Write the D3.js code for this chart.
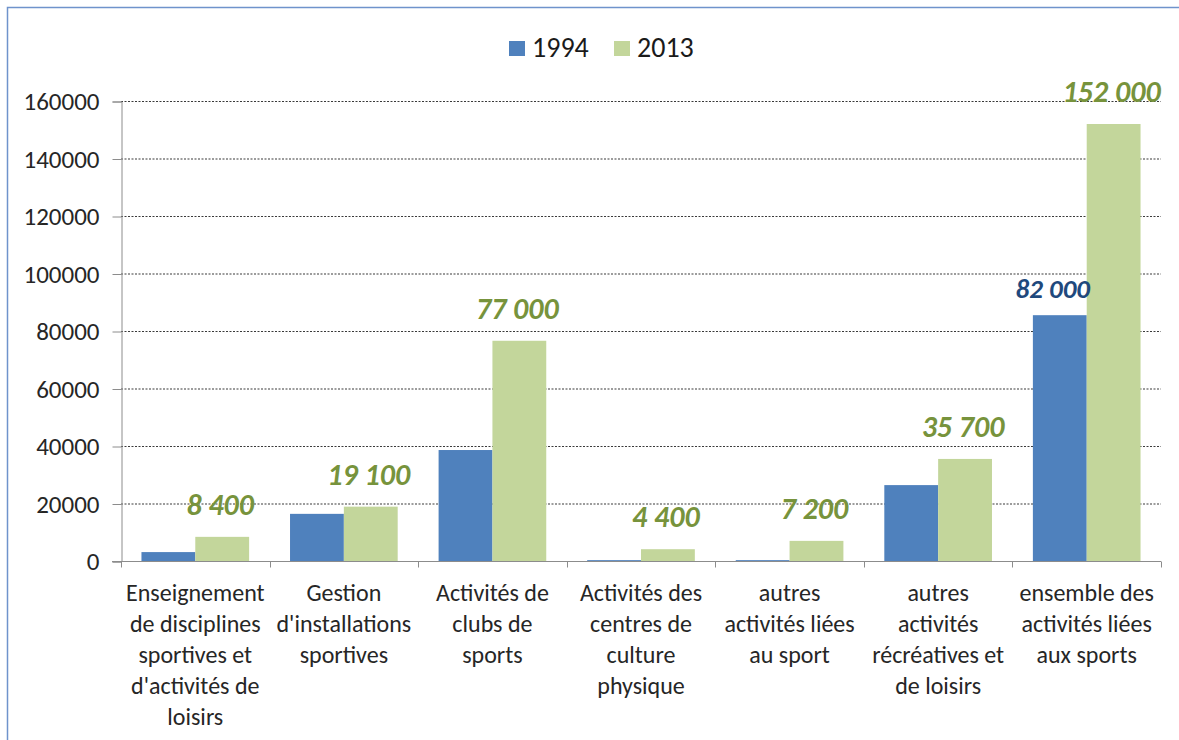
<!DOCTYPE html>
<head>
<meta charset="utf-8">
<title>Emplois liés au sport 1994 - 2013</title>
<style>
  body { margin: 0; background: #fff; overflow: hidden; }
  text { font-family: Calibri, Carlito, "Liberation Sans", Arial, sans-serif; }
</style>
</head>
<body>
<script src="https://d3js.org/d3.v7.min.js"></script>
<script>
// données
let categories = [
  "Enseignement\nde disciplines\nsportives et\nd'activités de\nloisirs",
  "Gestion\nd'installations\nsportives",
  "Activités de\nclubs de\nsports",
  "Activités des\ncentres de\nculture\nphysique",
  "autres\nactivités liées\nau sport",
  "autres\nactivités\nrécréatives et\nde loisirs",
  "ensemble des\nactivités liées\naux sports"
];
let series = ["1994", "2013"];
let values1994 = [3100, 16400, 38600, 300, 300, 26400, 85500];
let values2013 = [8400, 18900, 76600, 4100, 7000, 35500, 152000];
let labels1994 = ["", "", "", "", "", "", "82 000"];
let labels2013 = ["8 400", "19 100", "77 000", "4 400", "7 200", "35 700", "152 000"];
let yTicks = [0, 20000, 40000, 60000, 80000, 100000, 120000, 140000, 160000];

let colors = ["#4F81BD", "#C3D69B"];
let labelColors = ["#1F497D", "#77933C"];

let width = 1179;
let height = 740;
let svg = d3.select("body").append("svg")
  .attr("width", width)
  .attr("height", height);

// cadre du graphique (bords haut et gauche visibles)
svg.append("path")
  .attr("d", "M7.5,740V7.5H1179")
  .attr("fill", "none")
  .attr("stroke", "#6F93CC")
  .attr("stroke-width", 1.5);

let x0 = d3.scaleBand()
  .domain(categories)
  .range([121, 1161]);

let x1 = d3.scaleBand()
  .domain(series)
  .range([0, x0.bandwidth()])
  .paddingOuter(0.38);

let y = d3.scaleLinear()
  .domain([0, 160000])
  .range([561, 101]);

// grille
svg.selectAll(".grid")
  .data(yTicks.filter(d => d > 0))
  .join("line")
  .attr("class", "grid")
  .attr("x1", 121)
  .attr("x2", 1161)
  .attr("y1", d => y(d) + 0.5)
  .attr("y2", d => y(d) + 0.5)
  .attr("stroke", "#3a3a3a")
  .attr("stroke-width", 1.2)
  .attr("stroke-dasharray", "2,1.5");

// axe y
let yAxis = svg.append("g")
  .attr("transform", "translate(121.5,0.5)")
  .call(d3.axisLeft(y).tickValues(yTicks).tickFormat(d3.format("d")).tickSize(9).tickPadding(13));
yAxis.select(".domain").attr("stroke", "#8c8c8c");
yAxis.selectAll(".tick line").attr("stroke", "#8c8c8c");
yAxis.selectAll(".tick text")
  .attr("fill", "#262626")
  .style("font-size", "25px");

// barres
let rows = categories.map((c, i) => ({ cat: c, vals: [values1994[i], values2013[i]], labs: [labels1994[i], labels2013[i]] }));

let groups = svg.selectAll(".group")
  .data(rows)
  .join("g")
  .attr("class", "group")
  .attr("transform", d => `translate(${x0(d.cat)},0)`);

groups.selectAll("rect")
  .data(d => d.vals.map((v, k) => ({ key: series[k], value: v, k: k })))
  .join("rect")
  .attr("x", d => x1(d.key))
  .attr("y", d => y(d.value))
  .attr("width", x1.bandwidth())
  .attr("height", d => y(0) - y(d.value))
  .attr("fill", d => colors[d.k]);

groups.selectAll(".lab")
  .data(d => d.labs.map((l, k) => ({ key: series[k], value: d.vals[k], label: l, k: k })))
  .join("text")
  .attr("class", "lab")
  .attr("x", d => x1(d.key) + x1.bandwidth() / 2 - (d.k === 0 ? 7 : 2))
  .attr("y", d => y(d.value) - (d.k === 0 ? 17 : 22))
  .attr("text-anchor", "middle")
  .style("font-size", d => d.k === 0 ? "27px" : "30px")
  .style("font-style", "italic")
  .style("font-weight", "bold")
  .attr("fill", d => labelColors[d.k])
  .text(d => d.label);

// axe x
let xAxis = svg.append("g")
  .attr("transform", "translate(0,561.5)");
xAxis.append("line")
  .attr("x1", 112)
  .attr("x2", 1161)
  .attr("stroke", "#8c8c8c");
xAxis.selectAll(".xt")
  .data(categories.map(c => x0(c)).concat([x0.range()[1]]))
  .join("line")
  .attr("class", "xt")
  .attr("x1", d => Math.round(d) + 0.5)
  .attr("x2", d => Math.round(d) + 0.5)
  .attr("y1", 0)
  .attr("y2", 6)
  .attr("stroke", "#8c8c8c");

let catLabels = xAxis.selectAll(".cat")
  .data(categories)
  .join("text")
  .attr("class", "cat")
  .attr("x", d => x0(d) + x0.bandwidth() / 2)
  .attr("y", 39)
  .attr("text-anchor", "middle")
  .attr("fill", "#262626")
  .style("font-size", "24px");
catLabels.selectAll("tspan")
  .data(d => d.split("\n"))
  .join("tspan")
  .attr("x", function () { return d3.select(this.parentNode).attr("x"); })
  .attr("dy", (d, i) => i === 0 ? 0 : 31)
  .text(d => d);

// légende
let legend = svg.append("g").attr("class", "legend");
let legendX = [509, 614];
series.forEach(function (s, i) {
  legend.append("rect")
    .attr("x", legendX[i])
    .attr("y", 41)
    .attr("width", 16)
    .attr("height", 15)
    .attr("fill", colors[i]);
  legend.append("text")
    .attr("x", legendX[i] + 23)
    .attr("y", 57)
    .attr("fill", "#1a1a1a")
    .style("font-size", "28px")
    .text(s);
});
</script>
</body>
